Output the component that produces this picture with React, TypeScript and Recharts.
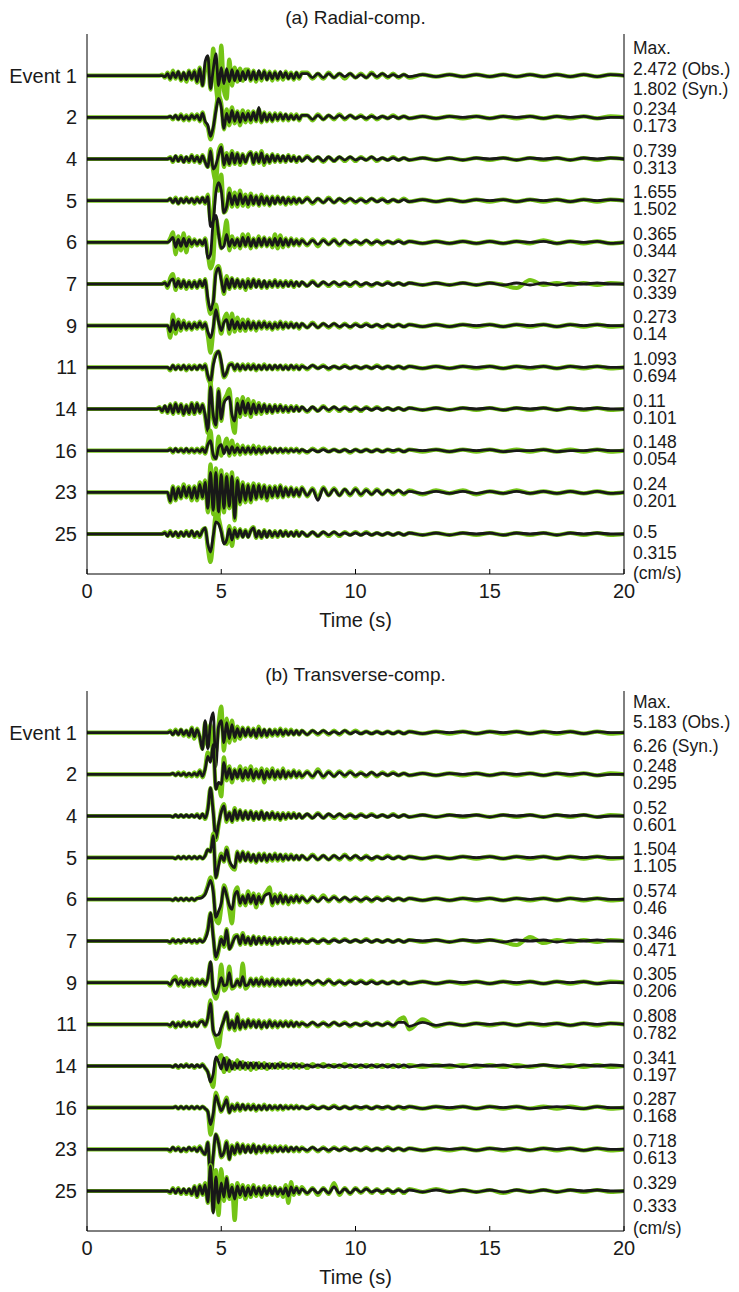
import React from 'react';
import { LineChart, Line, XAxis, YAxis } from 'recharts';

// sample times (s): dense around the arrivals, sparser in the coda
const TIMES = [
  0,
  2.5, 2.6, 2.7, 2.8, 2.9,
  3.0, 3.1, 3.2, 3.3, 3.4, 3.5, 3.6, 3.7, 3.8, 3.9,
  4.0, 4.1, 4.2, 4.3, 4.4, 4.5, 4.6, 4.7, 4.8, 4.9,
  5.0, 5.1, 5.2, 5.3, 5.4, 5.5, 5.6, 5.7, 5.8, 5.9,
  6.0, 6.1, 6.2, 6.3, 6.4, 6.5, 6.6, 6.7, 6.8, 6.9,
  7.0, 7.1, 7.2, 7.3, 7.4, 7.5, 7.6, 7.7, 7.8, 7.9,
  8.0,
  8.2, 8.4, 8.6, 8.8, 9.0, 9.2, 9.4, 9.6, 9.8, 10.0, 10.2, 10.4, 10.6, 10.8, 11.0, 11.2, 11.4, 11.6, 11.8, 12.0,
  12.5, 13, 13.5, 14, 14.5, 15, 15.5, 16, 16.5, 17, 17.5, 18, 18.5, 19, 19.5, 20,
];

const X_TICKS = [0, 5, 10, 15, 20];
const EVENTS = ['Event 1', '2', '4', '5', '6', '7', '9', '11', '14', '16', '23', '25'];

const RADIAL_MAX_OBS = [2.472, 0.234, 0.739, 1.655, 0.365, 0.327, 0.273, 1.093, 0.11, 0.148, 0.24, 0.5];
const RADIAL_MAX_SYN = [1.802, 0.173, 0.313, 1.502, 0.344, 0.339, 0.14, 0.694, 0.101, 0.054, 0.201, 0.315];
const TRANS_MAX_OBS = [5.183, 0.248, 0.52, 1.504, 0.574, 0.346, 0.305, 0.808, 0.341, 0.287, 0.718, 0.329];
const TRANS_MAX_SYN = [6.26, 0.295, 0.601, 1.105, 0.46, 0.471, 0.206, 0.782, 0.197, 0.168, 0.613, 0.333];

// normalised amplitudes, one row per event (trace spacing = 41.67 units)
const radialObs = [
  [0, 0,0,0,1,-2,
   3,-4,5,-3,4,-5,3,-6,5,-4,
   5,-7,8,-10,6,18,-14,27,-10,-27,
   30,-15,-23,16,-10,8,-6,7,-5,6,
   6,-5,5,-6,4,-5,5,-4,4,-5,
   4,-4,3,-4,4,-3,3,-4,3,-3,
   3,
   3,-3,2,-3,3,-2,2,-3,2,-2,2,-2,3,-2,2,-2,2,-2,1,-2,
   1,-1,1,-1,1,-1,1,-1,1,-1,1,-1,1,-1,1,0],
  [0, 0,0,0,0,0,
   0,1,-2,2,-2,3,-3,2,-3,3,
   -2,3,-4,5,-6,-10,-22,-12,8,22,
   14,-12,8,-8,10,-6,6,-8,7,-5,
   6,-5,6,-4,8,-5,5,-4,4,-4,
   4,-3,4,-3,3,-3,3,-2,3,-3,
   2,
   2,-3,3,-2,2,-2,3,-2,2,-1,2,-2,2,-2,1,-1,2,-1,1,-1,
   1,-1,1,-1,1,-1,1,-1,1,-1,1,-1,1,-1,1,0],
  [0, 0,0,0,0,0,
   0,2,-3,3,-2,3,-3,2,-3,4,
   -3,3,-4,4,-3,-8,10,-12,-22,8,
   14,-8,6,-6,8,-5,6,-6,5,-4,
   4,7,-5,6,-4,8,-6,4,-4,5,
   -3,4,-3,3,-3,4,-2,3,-3,2,
   -2,
   3,-2,2,-3,2,-2,2,-2,2,-2,2,-1,2,-2,1,-1,2,-1,1,-1,
   1,-1,1,-1,1,-1,1,-1,1,-1,1,-1,1,-1,1,0],
  [0, 0,0,0,0,0,
   0,2,-2,3,-3,2,-2,3,-2,2,
   -3,3,-2,3,-3,6,-20,-14,26,10,
   26,-12,-8,12,-6,8,-6,10,-5,6,
   -6,7,-4,5,-5,6,-4,4,-5,4,
   -3,4,-3,3,-4,3,-3,3,-3,2,
   -2,
   3,-3,2,-2,3,-2,2,-2,2,-2,2,-2,2,-1,2,-2,1,-1,2,-1,
   1,-1,1,-1,1,-1,1,-1,1,-1,1,-1,1,-1,1,0],
  [0, 0,0,0,0,0,
   0,4,10,-12,6,-8,9,-10,5,-4,
   3,-3,2,-3,4,-12,-26,-18,24,10,
   -6,5,22,-8,6,-5,4,-6,8,-4,
   8,-6,4,-5,6,-4,5,-4,4,-5,
   8,-6,7,-5,4,-4,4,-3,3,-3,
   3,
   -3,3,-4,3,-2,3,-3,2,-2,2,-2,2,-2,2,-2,1,-1,2,-1,1,
   -1,1,-1,1,-1,1,-1,1,-1,2,-1,1,-1,1,-1,0],
  [0, 0,0,0,0,2,
   -4,6,10,-6,5,-4,4,-5,3,-4,
   3,-4,4,-3,5,-18,-30,-20,14,18,
   6,-10,8,-5,6,-4,5,-4,4,-6,
   5,-4,5,-3,4,-4,3,-4,3,-3,
   4,-3,3,-3,3,-2,3,-3,2,-2,
   2,
   -2,3,-2,2,-2,2,-2,2,-2,2,-2,1,-2,1,-1,2,-1,1,-1,1,
   -1,1,-1,1,-1,1,-1,-4,4,-1,1,-1,1,-1,1,0],
  [0, 0,0,0,0,0,
   0,-12,11,-8,6,-5,5,-4,3,-4,
   3,-3,4,-3,3,-10,-27,-6,21,6,
   -8,6,12,-8,12,-6,8,-5,6,-5,
   6,-4,4,-5,4,-3,4,-3,3,-4,
   3,-3,4,-3,3,-2,3,-2,2,-3,
   2,
   -2,3,-2,2,-2,2,-2,2,-2,2,-1,2,-1,1,-2,1,-1,1,-1,1,
   -1,1,-1,1,-1,1,-1,1,-1,1,-1,1,-1,1,-1,0],
  [0, 0,0,0,0,0,
   0,-3,2,-2,2,-2,2,-3,2,-2,
   2,-2,2,-2,3,-10,-16,4,14,16,
   4,-10,-6,3,4,-3,3,-3,3,-2,
   3,-2,3,-3,2,-2,3,-2,2,-2,
   2,-2,2,-2,2,-2,2,-2,2,-2,
   2,
   -2,2,-1,2,-2,1,-1,2,-1,1,-1,1,-1,2,-1,1,-1,1,-1,1,
   -1,1,-1,1,-1,1,-1,1,-1,1,-1,1,-1,1,-1,0],
  [0, 0,0,2,-3,3,
   -4,5,-5,6,-4,5,-6,4,-5,6,
   -5,6,-4,5,-8,-24,26,-10,-18,20,
   -12,8,14,20,-10,-24,10,-8,12,-6,
   10,-8,8,-5,6,-5,5,-4,4,-4,
   4,-3,4,-3,3,-3,3,-2,3,-2,
   2,
   -3,2,-2,3,-2,2,-2,2,-2,2,-2,2,-1,2,-1,1,-1,1,-1,1,
   -1,1,-1,1,-1,1,-1,1,-1,1,-1,1,-1,1,-1,0],
  [0, 0,0,0,0,0,
   0,2,-2,2,-1,2,-2,2,-2,2,
   -2,2,-2,3,-3,8,20,-8,-8,14,
   -5,4,12,-5,10,-4,6,-4,5,-3,
   4,-3,5,-3,4,-3,3,-2,3,-2,
   2,-2,2,-2,2,-2,2,-1,2,-2,
   1,
   -2,2,-1,2,-1,1,-1,1,-2,1,-1,1,-1,1,-1,1,-1,1,-1,1,
   -1,1,-1,1,-1,1,-1,1,-1,1,-1,1,-1,1,-1,0],
  [0, 0,0,0,0,0,
   0,-10,6,-8,5,-6,8,-5,6,-8,
   6,-8,10,-6,12,-20,28,-22,24,-24,
   22,-20,18,-16,20,-28,14,-12,10,-10,
   8,-10,9,-7,8,-6,7,-8,6,-5,
   6,-5,7,-5,5,-4,5,-4,4,-4,
   5,
   -4,4,-6,5,-3,4,-3,3,-3,4,-3,3,-2,3,-2,2,-2,2,-2,2,
   -2,2,-1,2,-2,1,-1,2,-1,1,-1,1,-1,1,-1,0],
  [0, 0,0,0,0,2,
   -2,3,-2,2,-3,2,-2,3,-2,3,
   -3,2,-3,4,6,-14,-28,-6,20,16,
   4,-8,-10,8,-12,6,-4,5,-3,4,
   -3,4,7,-4,3,-4,4,-3,3,-3,
   3,-3,3,-2,3,-2,2,-2,3,-2,
   2,
   -2,2,-2,2,-2,2,-2,2,-1,2,-1,2,-1,1,-1,1,-1,1,-1,1,
   -1,1,-1,1,-1,1,-1,1,-1,1,-1,1,-1,1,-1,0],
];

const radialSyn = [
  [0, 0,0,0,0,-1,
   2,-3,3,-2,4,-4,3,-4,4,-3,
   4,-6,7,-10,14,20,-13,6,22,-10,
   8,-8,7,-6,6,-5,5,-5,4,-4,
   5,-4,4,-4,5,-3,4,-4,3,-3,
   3,-3,4,-2,3,-3,2,-3,3,-2,
   2,
   2,-2,2,-2,2,-2,2,-1,2,-2,1,-2,2,-1,2,-1,1,-1,1,-1,
   1,-1,1,-1,1,-1,1,-1,1,-1,1,-1,1,-1,1,0],
  [0, 0,0,0,0,0,
   0,1,-1,2,-2,2,-2,1,-2,2,
   -1,2,-3,4,-4,-8,-19,-10,6,19,
   10,-11,4,-5,7,-4,5,-5,4,-3,
   4,-3,5,-3,10,-4,4,-3,3,-3,
   3,-2,3,-2,3,-2,2,-2,2,-2,
   2,
   2,-2,2,-2,2,-1,2,-1,2,-1,1,-1,1,-1,1,-1,1,-1,1,-1,
   1,-1,1,0,1,-1,1,0,1,-1,1,0,1,-1,0,0],
  [0, 0,0,0,0,0,
   0,1,-2,3,-2,2,-3,2,-2,3,
   -2,2,-3,3,-3,-8,8,-10,-6,4,
   12,-6,4,-5,6,-4,5,-4,4,-3,
   3,6,-4,5,-3,6,-4,3,-3,4,
   -2,3,-2,3,-2,3,-2,2,-2,2,
   -2,
   2,-2,2,-2,2,-2,2,-1,2,-1,1,-1,2,-1,1,-1,1,-1,1,-1,
   1,-1,1,-1,1,0,1,-1,1,0,1,-1,1,0,1,0],
  [0, 0,0,0,0,0,
   0,2,-2,2,-3,2,-2,2,-2,2,
   -2,2,-2,3,-2,4,-26,-20,8,18,
   10,-12,-6,8,-4,5,-4,7,-3,4,
   -4,5,-3,4,-4,4,-3,3,-4,3,
   -3,3,-2,3,-3,2,-2,2,-2,2,
   -2,
   2,-2,2,-2,2,-2,2,-1,2,-1,1,-1,2,-1,1,-1,1,-1,1,-1,
   1,-1,1,-1,1,0,1,-1,1,0,1,-1,1,0,1,0],
  [0, 0,0,0,0,0,
   0,2,5,-5,3,-4,4,-4,3,-2,
   2,-2,2,-2,3,-16,-12,20,27,8,
   -6,-4,8,-4,3,-3,3,-4,5,-3,
   5,-4,3,-4,4,-3,4,-3,3,-3,
   4,-3,4,-3,3,-3,3,-2,2,-2,
   2,
   -2,2,-2,2,-2,2,-2,2,-1,1,-1,2,-1,1,-1,1,-1,1,-1,1,
   -1,1,-1,1,-1,1,-1,1,0,1,-1,1,0,1,-1,0],
  [0, 0,0,0,0,1,
   -2,3,5,-3,3,-3,3,-3,2,-3,
   2,-3,3,-2,4,-14,-26,-18,10,16,
   4,-8,5,-4,5,-3,4,-3,3,-4,
   3,-3,4,-3,3,-3,3,-3,2,-2,
   3,-2,2,-2,2,-2,2,-2,2,-2,
   2,
   -2,2,-2,2,-1,2,-1,1,-1,2,-1,1,-1,1,-1,1,-1,1,-1,1,
   -1,1,-1,1,-1,1,-1,1,-1,1,-1,1,0,1,0,0],
  [0, 0,0,0,0,0,
   0,-6,6,-4,4,-3,3,-3,2,-3,
   2,-2,3,-2,2,-6,-12,-2,16,4,
   -5,3,6,-4,6,-3,4,-3,3,-3,
   4,-3,3,-3,3,-2,3,-2,2,-3,
   2,-2,3,-2,2,-2,2,-2,2,-2,
   2,
   -2,2,-2,2,-1,2,-1,1,-1,1,-1,1,-1,1,-1,1,-1,1,-1,1,
   -1,1,-1,1,0,1,-1,1,0,1,-1,1,0,1,0,0],
  [0, 0,0,0,0,0,
   0,-2,2,-2,1,-2,2,-2,1,-2,
   1,-2,2,-1,2,-8,-14,2,12,16,
   6,-9,-5,2,3,-2,3,-2,2,-2,
   2,-2,2,-2,2,-2,2,-2,2,-2,
   2,-1,2,-2,1,-2,2,-1,1,-2,
   1,
   -1,2,-1,1,-1,1,-1,1,-1,1,-1,1,-1,1,-1,1,-1,1,-1,1,
   -1,1,-1,1,0,1,-1,1,0,1,-1,1,0,1,0,0],
  [0, 0,0,1,-2,3,
   -3,4,-4,5,-3,4,-5,3,-4,5,
   -4,5,-3,4,-6,-22,22,-6,-16,18,
   -10,6,10,12,-6,-12,6,-5,8,-4,
   6,-5,5,-4,4,-3,4,-3,3,-3,
   3,-2,3,-2,2,-2,2,-2,2,-2,
   2,
   -2,2,-2,2,-1,2,-1,1,-1,1,-1,1,-1,1,-1,1,-1,1,-1,1,
   -1,1,-1,1,0,1,-1,1,0,1,-1,1,0,1,0,0],
  [0, 0,0,0,0,0,
   0,1,-1,2,-1,1,-1,2,-1,1,
   -1,1,-1,2,-2,6,10,-4,-8,3,
   6,-3,4,-3,4,-2,3,-2,3,-2,
   3,-2,3,-2,2,-2,2,-2,2,-2,
   2,-1,2,-1,1,-1,1,-1,1,-1,
   1,
   -1,1,-1,1,-1,1,-1,1,-1,1,-1,1,-1,1,-1,1,0,1,-1,1,
   0,1,-1,1,0,1,-1,0,0,1,-1,0,0,1,0,0],
  [0, 0,0,0,0,0,
   0,-9,5,-7,4,-5,6,-4,5,-6,
   5,-6,8,-5,10,-16,20,-18,20,-20,
   18,-16,16,-14,16,-26,12,-10,8,-8,
   7,-8,7,-6,7,-5,6,-6,5,-4,
   5,-4,6,-4,4,-3,4,-3,3,-3,
   4,
   -3,3,-8,4,-3,3,-3,3,-2,3,-2,2,-2,2,-2,2,-1,2,-1,1,
   -1,1,-1,1,-1,1,-1,1,-1,1,-1,1,-1,1,-1,0],
  [0, 0,0,0,0,1,
   -2,2,-2,2,-2,2,-2,2,-2,3,
   -2,2,-2,3,6,-10,-18,-2,12,10,
   2,-10,-6,5,-6,4,-3,4,-3,3,
   -3,3,6,-3,3,-3,3,-3,3,-2,
   2,-2,3,-2,2,-2,2,-2,2,-2,
   2,
   -2,2,-2,2,-1,2,-1,1,-1,1,-1,1,-1,1,-1,1,-1,1,-1,1,
   -1,1,-1,1,0,1,-1,1,0,1,-1,1,0,1,0,0],
];

const transObs = [
  [0, 0,0,0,0,0,
   0,2,-2,3,-2,3,-3,2,-4,5,
   -6,4,-5,-16,10,-14,8,-22,-20,8,
   26,-18,14,-10,12,-8,6,-6,5,-4,
   5,-4,4,-5,6,-4,3,-4,3,-3,
   3,-3,4,-3,3,-2,3,-2,2,-2,
   2,
   -2,2,-2,2,-2,2,-2,2,-1,2,-1,1,-1,1,-1,1,-1,1,-1,1,
   -1,1,-1,1,-1,1,-1,1,-1,1,-1,1,-1,1,-1,0],
  [0, 0,0,0,0,0,
   0,0,1,-1,2,-1,2,-2,1,-2,
   2,-2,4,-3,6,22,14,26,-14,-10,
   -22,17,-6,8,-8,5,-4,8,-6,6,
   -5,8,-6,5,-4,6,-8,5,-4,6,
   -5,4,-4,6,-4,3,-3,4,-3,3,
   -3,
   3,-3,5,-3,3,-2,3,-2,3,-2,2,-2,2,-2,2,-1,2,-1,1,-1,
   1,-1,1,-1,1,-1,1,-1,1,-1,1,-1,1,-1,1,0],
  [0, 0,0,0,0,0,
   0,0,-1,1,-1,1,-1,1,-1,1,
   -1,2,-2,2,-3,8,28,6,-24,-10,
   6,12,-6,4,-6,8,-4,6,-4,5,
   -3,5,-4,4,-3,5,-4,3,-3,4,
   -3,3,-4,3,-3,3,-2,3,-2,2,
   -2,
   2,-2,3,-2,2,-2,2,-2,2,-2,2,-1,2,-1,1,-1,2,-1,1,-1,
   1,-1,1,-1,1,-1,1,-1,1,-1,1,-1,1,-1,1,0],
  [0, 0,0,0,0,0,
   0,0,0,-1,1,-1,1,-1,1,-1,
   1,-1,1,-1,2,8,6,24,-20,-6,
   4,-4,10,-4,-10,-12,6,-4,6,-3,
   5,-4,3,-5,4,-3,4,-4,3,-3,
   4,-3,3,-3,3,-2,3,-2,2,-2,
   2,
   -2,3,-2,2,-2,2,-2,3,-2,2,-2,2,-2,1,-1,2,-1,1,-1,1,
   -1,1,-1,1,-1,1,-1,1,-1,1,-1,1,-1,1,-1,0],
  [0, 0,0,0,0,0,
   0,0,-1,1,-1,1,-1,1,-1,1,
   -1,1,2,3,6,14,22,10,-20,-24,
   -8,14,6,-10,-24,6,12,-6,4,-6,
   8,-4,6,-8,5,-4,4,8,12,-6,
   5,-4,6,-4,4,-5,3,-3,4,-3,
   3,
   -3,3,-2,4,-2,3,-2,2,-2,2,-2,2,-2,2,-1,2,-1,1,-1,1,
   -1,1,-1,1,-1,1,-1,1,-1,1,-1,1,-1,1,-1,0],
  [0, 0,0,0,0,0,
   0,-2,2,-2,1,-2,2,-1,2,-2,
   1,-2,2,-1,3,12,28,6,-18,-10,
   4,-6,12,-8,-4,5,6,-4,8,-3,
   4,-4,5,-3,4,-3,4,-3,3,-4,
   3,-3,3,-2,3,-2,3,-2,2,-2,
   2,
   -2,2,-2,2,-2,2,-1,2,-1,1,-1,2,-1,1,-1,1,-1,1,-1,1,
   -1,1,-1,1,-1,1,-1,-4,4,-2,1,-1,1,-1,1,0],
  [0, 0,0,0,0,0,
   0,-3,3,6,-3,4,-4,3,-3,4,
   -3,3,-2,3,-3,4,20,-8,-16,-6,
   18,-8,-4,16,-6,-4,3,-4,19,-6,
   -3,4,-3,4,-3,5,-3,3,-3,4,
   -3,3,-3,3,-2,3,-2,3,-2,2,
   -2,
   2,-2,2,-2,3,-2,2,-2,2,-1,2,-1,2,-1,1,-1,1,-1,1,-1,
   1,-1,1,-1,1,-1,1,-1,1,-1,1,-1,1,-1,1,0],
  [0, 0,0,0,0,0,
   0,-2,2,-3,2,-2,3,-2,2,-2,
   2,-2,3,4,-2,6,24,-6,-14,-23,
   -6,5,12,-5,4,-6,10,-5,4,-4,
   5,-3,4,-3,4,-4,3,-3,4,-3,
   3,-3,3,-2,3,-2,3,-2,2,-2,
   2,
   -2,2,-2,2,-2,2,-1,2,-2,1,-1,2,-1,1,-1,2,-2,4,7,-5,
   5,-2,1,-1,1,-1,1,-1,1,-1,1,-1,1,-1,1,0],
  [0, 0,0,0,0,0,
   0,0,-1,1,-2,1,-1,2,-1,1,
   -2,1,-1,2,-2,-6,-14,-21,6,8,
   11,-6,8,-5,4,-3,6,-3,4,-3,
   3,-4,3,-3,3,-2,3,-3,2,-2,
   2,-2,3,-2,2,-2,2,-2,2,-2,
   2,
   -2,2,-1,2,-1,1,-1,2,-1,1,-1,1,-1,1,-1,1,-1,1,-1,1,
   -1,1,-1,1,-1,1,-1,1,-1,1,-1,1,-1,1,-1,0],
  [0, 0,0,0,0,0,
   0,0,0,1,-1,1,-1,1,-1,1,
   -1,1,-1,1,-1,-4,-27,-10,15,6,
   -4,3,10,-5,3,-3,4,-3,3,-2,
   3,-2,3,-3,2,-2,3,-2,2,-2,
   2,-2,2,-2,2,-1,2,-1,2,-1,
   1,
   -1,2,-1,1,-1,2,-1,1,-1,1,-1,1,-1,1,-1,1,-1,1,-1,1,
   -1,1,-1,1,-1,1,-1,1,-1,1,-1,1,-1,1,-1,0],
  [0, 0,0,0,0,0,
   0,-2,2,-1,2,-2,1,-2,2,-1,
   2,-2,3,-3,-5,7,-28,-8,15,8,
   -8,-4,8,-10,4,-5,6,-4,5,-3,
   4,-3,5,-4,3,-3,4,-3,3,-3,
   3,-2,3,-2,3,-2,2,-2,2,-2,
   2,
   -2,2,-2,2,-2,2,-1,2,-1,1,-1,2,-1,1,-1,2,-1,1,-1,1,
   -1,1,-1,1,-1,1,-1,1,-1,1,-1,1,-1,1,-1,0],
  [0, 0,0,0,0,0,
   0,-2,3,-2,3,-3,2,-3,2,-4,
   5,-6,6,-4,8,-12,26,-20,21,-24,
   22,-10,14,-8,6,-29,8,-6,6,-8,
   5,-6,6,-5,4,-6,5,-4,5,-4,
   4,-5,3,-6,6,-12,9,-4,4,-3,
   4,
   -3,3,-4,3,-3,8,-4,3,-3,3,-2,3,-2,2,-2,2,-2,2,-2,2,
   -1,2,-1,1,-1,1,-2,1,-1,1,-1,1,-1,1,-1,0],
];

const transSyn = [
  [0, 0,0,0,0,0,
   0,1,-2,2,-2,3,-2,2,-3,4,
   -4,3,-4,-17,12,-16,10,20,-34,6,
   12,-10,10,-6,8,-5,4,-4,4,-3,
   4,-3,3,-4,4,-3,3,-3,3,-2,
   2,-2,3,-2,2,-2,2,-2,2,-2,
   2,
   -2,2,-1,2,-1,1,-1,2,-1,1,-1,1,-1,1,-1,1,-1,1,-1,1,
   -1,1,0,1,-1,1,0,1,-1,1,0,1,-1,1,0,0],
  [0, 0,0,0,0,0,
   0,0,1,-1,1,-1,1,-1,1,-1,
   1,-1,3,-2,5,18,12,30,-15,-8,
   -10,12,-4,6,-5,4,-3,5,-4,4,
   -3,5,-4,3,-3,4,-5,3,-3,4,
   -3,3,-3,4,-3,2,-2,3,-2,2,
   -2,
   2,-2,3,-2,2,-2,2,-1,2,-1,1,-1,2,-1,1,-1,1,-1,1,-1,
   1,-1,1,0,1,-1,1,0,1,-1,1,0,1,-1,0,0],
  [0, 0,0,0,0,0,
   0,0,-1,1,-1,1,-1,1,-1,1,
   -1,1,-2,2,-2,6,28,4,-22,-8,
   4,10,-4,3,-5,6,-3,5,-3,4,
   -3,4,-3,3,-3,4,-3,3,-2,3,
   -2,2,-3,2,-2,2,-2,2,-2,2,
   -2,
   2,-2,2,-2,2,-1,2,-1,1,-1,1,-1,1,-1,1,-1,1,-1,1,-1,
   1,-1,1,0,1,-1,1,0,1,-1,1,0,1,-1,0,0],
  [0, 0,0,0,0,0,
   0,0,0,-1,1,-1,1,-1,1,-1,
   1,-1,1,-1,2,8,6,22,-20,-8,
   2,-3,8,-3,-8,-10,5,-3,5,-3,
   4,-3,3,-4,3,-3,3,-3,3,-2,
   3,-2,3,-2,2,-2,2,-2,2,-2,
   2,
   -2,2,-2,2,-2,2,-1,2,-1,2,-1,1,-1,1,-1,1,-1,1,-1,1,
   -1,1,-1,1,0,1,-1,1,0,1,-1,1,0,1,0,0],
  [0, 0,0,0,0,0,
   0,0,-1,1,-1,1,-1,1,-1,1,
   -1,1,1,2,5,12,19,8,-18,-12,
   -4,12,4,-6,-10,4,8,-4,3,-4,
   5,-3,4,-5,3,-3,3,5,6,-4,
   3,-3,4,-3,3,-3,2,-2,3,-2,
   2,
   -2,2,-2,2,-1,2,-1,2,-1,1,-1,1,-1,1,-1,1,-1,1,-1,1,
   -1,1,-1,1,0,1,-1,1,0,1,-1,1,0,1,0,0],
  [0, 0,0,0,0,0,
   0,-1,1,-1,1,-1,1,-1,1,-1,
   1,-1,1,-1,2,10,28,4,-16,-8,
   2,-4,11,-8,-3,3,5,-3,6,-2,
   3,-3,4,-3,3,-2,3,-2,2,-3,
   2,-2,2,-2,2,-2,2,-1,1,-1,
   1,
   -1,1,-1,1,-1,1,-1,1,-1,1,-1,1,-1,1,-1,1,-1,1,-1,1,
   0,1,-1,1,0,1,-1,1,0,1,-1,1,0,1,0,0],
  [0, 0,0,0,0,0,
   0,-2,2,3,-2,2,-2,2,-2,2,
   -2,2,-1,2,-2,4,21,-6,-11,-4,
   5,-3,-2,10,-4,-3,2,-3,6,-3,
   -2,3,-2,3,-2,3,-2,2,-2,3,
   -2,2,-2,2,-2,2,-2,2,-1,2,
   -1,
   2,-1,2,-1,2,-1,1,-1,1,-1,1,-1,1,-1,1,-1,1,-1,1,-1,
   1,-1,1,0,1,-1,1,0,1,-1,1,0,1,-1,0,0],
  [0, 0,0,0,0,0,
   0,-1,2,-2,1,-2,2,-1,2,-2,
   1,-2,2,3,-1,6,21,-6,-11,-10,
   -3,4,12,-4,3,-4,8,-4,3,-3,
   4,-2,3,-3,3,-3,2,-3,3,-2,
   2,-2,2,-2,2,-2,2,-2,2,-1,
   1,
   -1,2,-1,1,-1,2,-1,1,-1,1,-1,1,-1,1,-1,1,-1,2,2,-2,
   2,-1,1,-1,1,0,1,-1,1,0,1,-1,1,0,1,0],
  [0, 0,0,0,0,0,
   0,0,-1,1,-1,1,-1,1,-1,1,
   -1,1,-1,1,-2,-6,-16,-8,9,4,
   -3,8,-4,6,-3,3,-2,4,-2,3,
   -2,3,-2,3,-2,2,-2,2,-2,2,
   -2,2,-1,2,-1,1,-1,2,-1,1,
   -1,
   1,-1,1,-1,1,-1,1,-1,1,-1,1,-1,1,-1,1,-1,1,-1,1,-1,
   1,0,1,-1,1,0,1,-1,0,1,0,-1,1,0,1,0],
  [0, 0,0,0,0,0,
   0,0,0,1,-1,1,-1,1,-1,1,
   -1,1,-1,1,-1,-4,-17,-6,12,4,
   -3,2,8,-5,2,-2,3,-2,3,-2,
   2,-2,2,-2,2,-2,2,-2,2,-1,
   1,-1,2,-1,1,-1,1,-1,1,-1,
   1,
   -1,1,-1,1,-1,1,-1,1,-1,1,0,1,-1,1,0,1,-1,1,0,1,
   -1,1,0,1,-1,1,0,1,-1,0,1,0,-1,1,0,0],
  [0, 0,0,0,0,0,
   0,-1,2,-1,1,-2,1,-1,2,-1,
   1,-2,2,-2,-5,7,-32,-6,15,6,
   -7,-3,7,-10,3,-4,5,-3,4,-3,
   3,-3,4,-3,3,-2,3,-2,2,-2,
   2,-2,2,-2,2,-2,2,-1,2,-1,
   1,
   -1,2,-1,1,-1,1,-1,1,-1,1,-1,1,-1,1,-1,1,-1,1,-1,1,
   -1,1,0,1,-1,1,0,1,-1,1,0,1,-1,1,0,0],
  [0, 0,0,0,0,0,
   0,-1,2,-2,2,-2,2,-2,2,-3,
   4,-5,5,-3,6,-11,25,-22,14,-12,
   8,-6,13,-6,4,-8,5,-4,4,-5,
   3,-4,4,-3,3,-4,3,-3,3,-3,
   3,-3,2,-3,3,-5,4,-2,3,-2,
   2,
   -2,2,-2,2,-2,4,-2,2,-2,2,-1,2,-1,1,-1,1,-1,1,-1,1,
   -1,1,-1,1,-1,1,-1,1,-1,1,-1,1,0,1,0,0],
];

const GREEN = '#74c416';
const BLACK = '#181818';
const INK = '#1a1a1a';
const FONT = '"Liberation Sans", Arial, Helvetica, sans-serif';
const TRACE_SPACING = 41.67;
const OFFSETS = EVENTS.map((_, i) => EVENTS.length - 1 - i);
const Y_DOMAIN = [-0.96, 12];

const buildTrace = (amps: number[], offset: number) =>
  TIMES.map((t, i) => ({ t, v: offset + (amps[i] ?? 0) / TRACE_SPACING }));

const BottomTick = (p: any) => (
  <g>
    <line x1={p.x} x2={p.x} y1={p.y} y2={p.y - 5} stroke="#000" strokeWidth={1} />
    <text x={p.x} y={p.y + 17} textAnchor="middle" dominantBaseline="central" fontSize={20} fill={INK} fontFamily={FONT}>
      {p.payload.value}
    </text>
  </g>
);

const TopTick = (p: any) => (
  <line x1={p.x} x2={p.x} y1={p.y} y2={p.y + 5} stroke="#000" strokeWidth={1} />
);

const LeftTick = (p: any) => {
  const k = Math.round(EVENTS.length - 1 - p.payload.value);
  return (
    <text x={p.x - 10} y={p.y} textAnchor="end" dominantBaseline="central" fontSize={20} fill={INK} fontFamily={FONT}>
      {EVENTS[k]}
    </text>
  );
};

interface PanelProps {
  top: number;
  title: string;
  obs: number[][];
  syn: number[][];
  maxObs: number[];
  maxSyn: number[];
  head: number[];
  tail: number[];
}

const Panel: React.FC<PanelProps> = ({ top, title, obs, syn, maxObs, maxSyn, head, tail }) => {
  const RightTick = (p: any) => {
    const k = Math.round(EVENTS.length - 1 - p.payload.value);
    let rows: [string, number][];
    if (k === 0) {
      rows = [['Max.', head[0]], [`${maxObs[0]} (Obs.)`, head[1]], [`${maxSyn[0]} (Syn.)`, head[2]]];
    } else if (k === EVENTS.length - 1) {
      rows = [[String(maxObs[k]), tail[0]], [String(maxSyn[k]), tail[1]], ['(cm/s)', tail[2]]];
    } else {
      rows = [[String(maxObs[k]), -8.5], [String(maxSyn[k]), 8.5]];
    }
    return (
      <g>
        {rows.map(([s, dy], j) => (
          <text key={j} x={p.x + 9} y={p.y + dy} textAnchor="start" dominantBaseline="central" fontSize={17.5} fill={INK} fontFamily={FONT}>
            {s}
          </text>
        ))}
      </g>
    );
  };

  return (
    <div style={{ position: 'absolute', left: 0, top, width: 739, height: 630 }}>
      <div style={{ position: 'absolute', left: 355.5, top: 17, transform: 'translate(-50%, -50%)', fontSize: 19, fontFamily: FONT, color: INK, whiteSpace: 'nowrap', lineHeight: 1 }}>
        {title}
      </div>
      <LineChart width={739} height={630} margin={{ top: 34, right: 0, bottom: 0, left: 0 }}>
        <XAxis xAxisId="b" dataKey="t" type="number" domain={[0, 20]} ticks={X_TICKS} allowDataOverflow
          height={56} tickSize={0} tickMargin={0} tickLine={false} tick={BottomTick} axisLine={{ stroke: '#000' }} />
        <XAxis xAxisId="t" orientation="top" dataKey="t" type="number" domain={[0, 20]} ticks={X_TICKS} allowDataOverflow
          height={0} tickSize={0} tickMargin={0} tickLine={false} tick={TopTick} axisLine={{ stroke: '#000' }} />
        <YAxis yAxisId="l" type="number" domain={Y_DOMAIN} ticks={OFFSETS} allowDataOverflow
          width={87} tickSize={0} tickMargin={0} tickLine={false} tick={LeftTick} axisLine={{ stroke: '#000' }} />
        <YAxis yAxisId="r" orientation="right" type="number" domain={Y_DOMAIN} ticks={OFFSETS} allowDataOverflow
          width={115} tickSize={0} tickMargin={0} tickLine={false} tick={RightTick} axisLine={{ stroke: '#000' }} />
        {EVENTS.flatMap((ev, k) => [
          <Line key={`o${k}`} data={buildTrace(obs[k], OFFSETS[k])} dataKey="v" xAxisId="b" yAxisId="l"
            type="monotone" stroke={GREEN} strokeWidth={4.2} strokeLinejoin="round" strokeLinecap="round"
            dot={false} activeDot={false} isAnimationActive={false} name={`${ev} obs`} />,
          <Line key={`s${k}`} data={buildTrace(syn[k], OFFSETS[k])} dataKey="v" xAxisId="b" yAxisId="l"
            type="monotone" stroke={BLACK} strokeWidth={2.8} strokeLinejoin="round" strokeLinecap="round"
            dot={false} activeDot={false} isAnimationActive={false} name={`${ev} syn`} />,
        ])}
      </LineChart>
      <div style={{ position: 'absolute', left: 355.5, top: 620, transform: 'translate(-50%, -50%)', fontSize: 20, fontFamily: FONT, color: INK, whiteSpace: 'nowrap', lineHeight: 1 }}>
        Time (s)
      </div>
    </div>
  );
};

export default function App() {
  return (
    <div style={{ position: 'absolute', left: 0, top: 0, width: 739, height: 1292, background: '#fff' }}>
      <Panel top={0} title="(a) Radial-comp." obs={radialObs} syn={radialSyn}
        maxObs={RADIAL_MAX_OBS} maxSyn={RADIAL_MAX_SYN} head={[-28, -7, 13]} tail={[-2, 19, 39]} />
      <Panel top={657} title="(b) Transverse-comp." obs={transObs} syn={transSyn}
        maxObs={TRANS_MAX_OBS} maxSyn={TRANS_MAX_SYN} head={[-31, -11, 13]} tail={[-8, 15, 37]} />
    </div>
  );
}
